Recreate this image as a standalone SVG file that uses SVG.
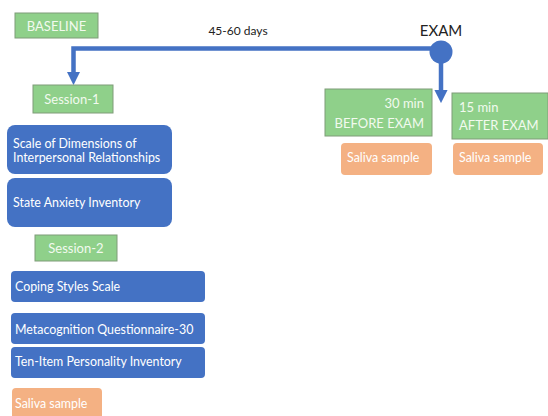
<svg xmlns="http://www.w3.org/2000/svg" width="548" height="416" viewBox="0 0 548 416">
<style>
.g{fill:#8fd08a;stroke:#7f9c78;stroke-width:1}
.b{fill:#4472c4}
.o{fill:#f4b183}
.t{font-family:Lato,"Open Sans",sans-serif;font-size:12.4px;fill:#ffffff}
.gt{font-family:Lato,"Open Sans",sans-serif;font-size:13px;fill:#f2faef}
.k{font-family:Lato,"Open Sans",sans-serif;fill:#222}
.c{fill:none;stroke:#4472c4;stroke-width:4.5}
</style>
<defs>
<marker id="ah" markerWidth="3" markerHeight="3" refX="1.2" refY="1.5" orient="auto" markerUnits="strokeWidth"><path d="M0,0 L3,1.5 L0,3 Z" fill="#4472c4"/></marker>
</defs>
<rect width="548" height="416" fill="#fff"/>
<g id="connectors">
<path class="c" d="M441,48.5 H73.5 V77" marker-end="url(#ah)"/>
<circle cx="441" cy="52" r="11.5" fill="#4472c4"/>
<path class="c" d="M441,60 V95" marker-end="url(#ah)"/>
<text class="k" x="238" y="35" font-size="12" text-anchor="middle">45-60 days</text>
<text class="k" x="441" y="36" font-size="15" text-anchor="middle">EXAM</text>
</g>
<g id="baseline"><rect class="g" x="15" y="13" width="83" height="25"/><text class="gt" x="56.5" y="31" text-anchor="middle">BASELINE</text></g>
<g id="session1"><rect class="g" x="33" y="85" width="80" height="28"/><text class="gt" x="72" y="104" text-anchor="middle">Session-1</text></g>
<g id="sdir"><rect class="b" x="7" y="125" width="165" height="49" rx="8"/><text class="t" x="13" y="148">Scale of Dimensions of</text><text class="t" x="13" y="162">Interpersonal Relationships</text></g>
<g id="sai"><rect class="b" x="7" y="178" width="165" height="49" rx="8"/><text class="t" x="13" y="207">State Anxiety Inventory</text></g>
<g id="session2"><rect class="g" x="35" y="235" width="82" height="26"/><text class="gt" x="76" y="253" text-anchor="middle">Session-2</text></g>
<g id="css"><rect class="b" x="11" y="271" width="194" height="31" rx="4"/><text class="t" x="15" y="291">Coping Styles Scale</text></g>
<g id="mcq"><rect class="b" x="11" y="313" width="194" height="31" rx="4"/><text class="t" x="15" y="334">Metacognition Questionnaire-30</text></g>
<g id="tipi"><rect class="b" x="11" y="347" width="194" height="31" rx="4"/><text class="t" x="15" y="366">Ten-Item Personality Inventory</text></g>
<g id="saliva1"><rect class="o" x="12" y="388" width="90" height="34" rx="4"/><text class="t" x="15" y="408">Saliva sample</text></g>
<g id="before"><rect class="g" x="325" y="89" width="107" height="47"/><text class="gt" x="424" y="108" text-anchor="end">30 min</text><text class="gt" x="424" y="128" text-anchor="end">BEFORE EXAM</text></g>
<g id="after"><rect class="g" x="452" y="93" width="96" height="46"/><text class="gt" x="459" y="112">15 min</text><text class="gt" x="459" y="130">AFTER EXAM</text></g>
<g id="saliva2"><rect class="o" x="341" y="143" width="91" height="32" rx="4"/><text class="t" x="347" y="162">Saliva sample</text></g>
<g id="saliva3"><rect class="o" x="453" y="143" width="90" height="32" rx="4"/><text class="t" x="459" y="162">Saliva sample</text></g>
</svg>
